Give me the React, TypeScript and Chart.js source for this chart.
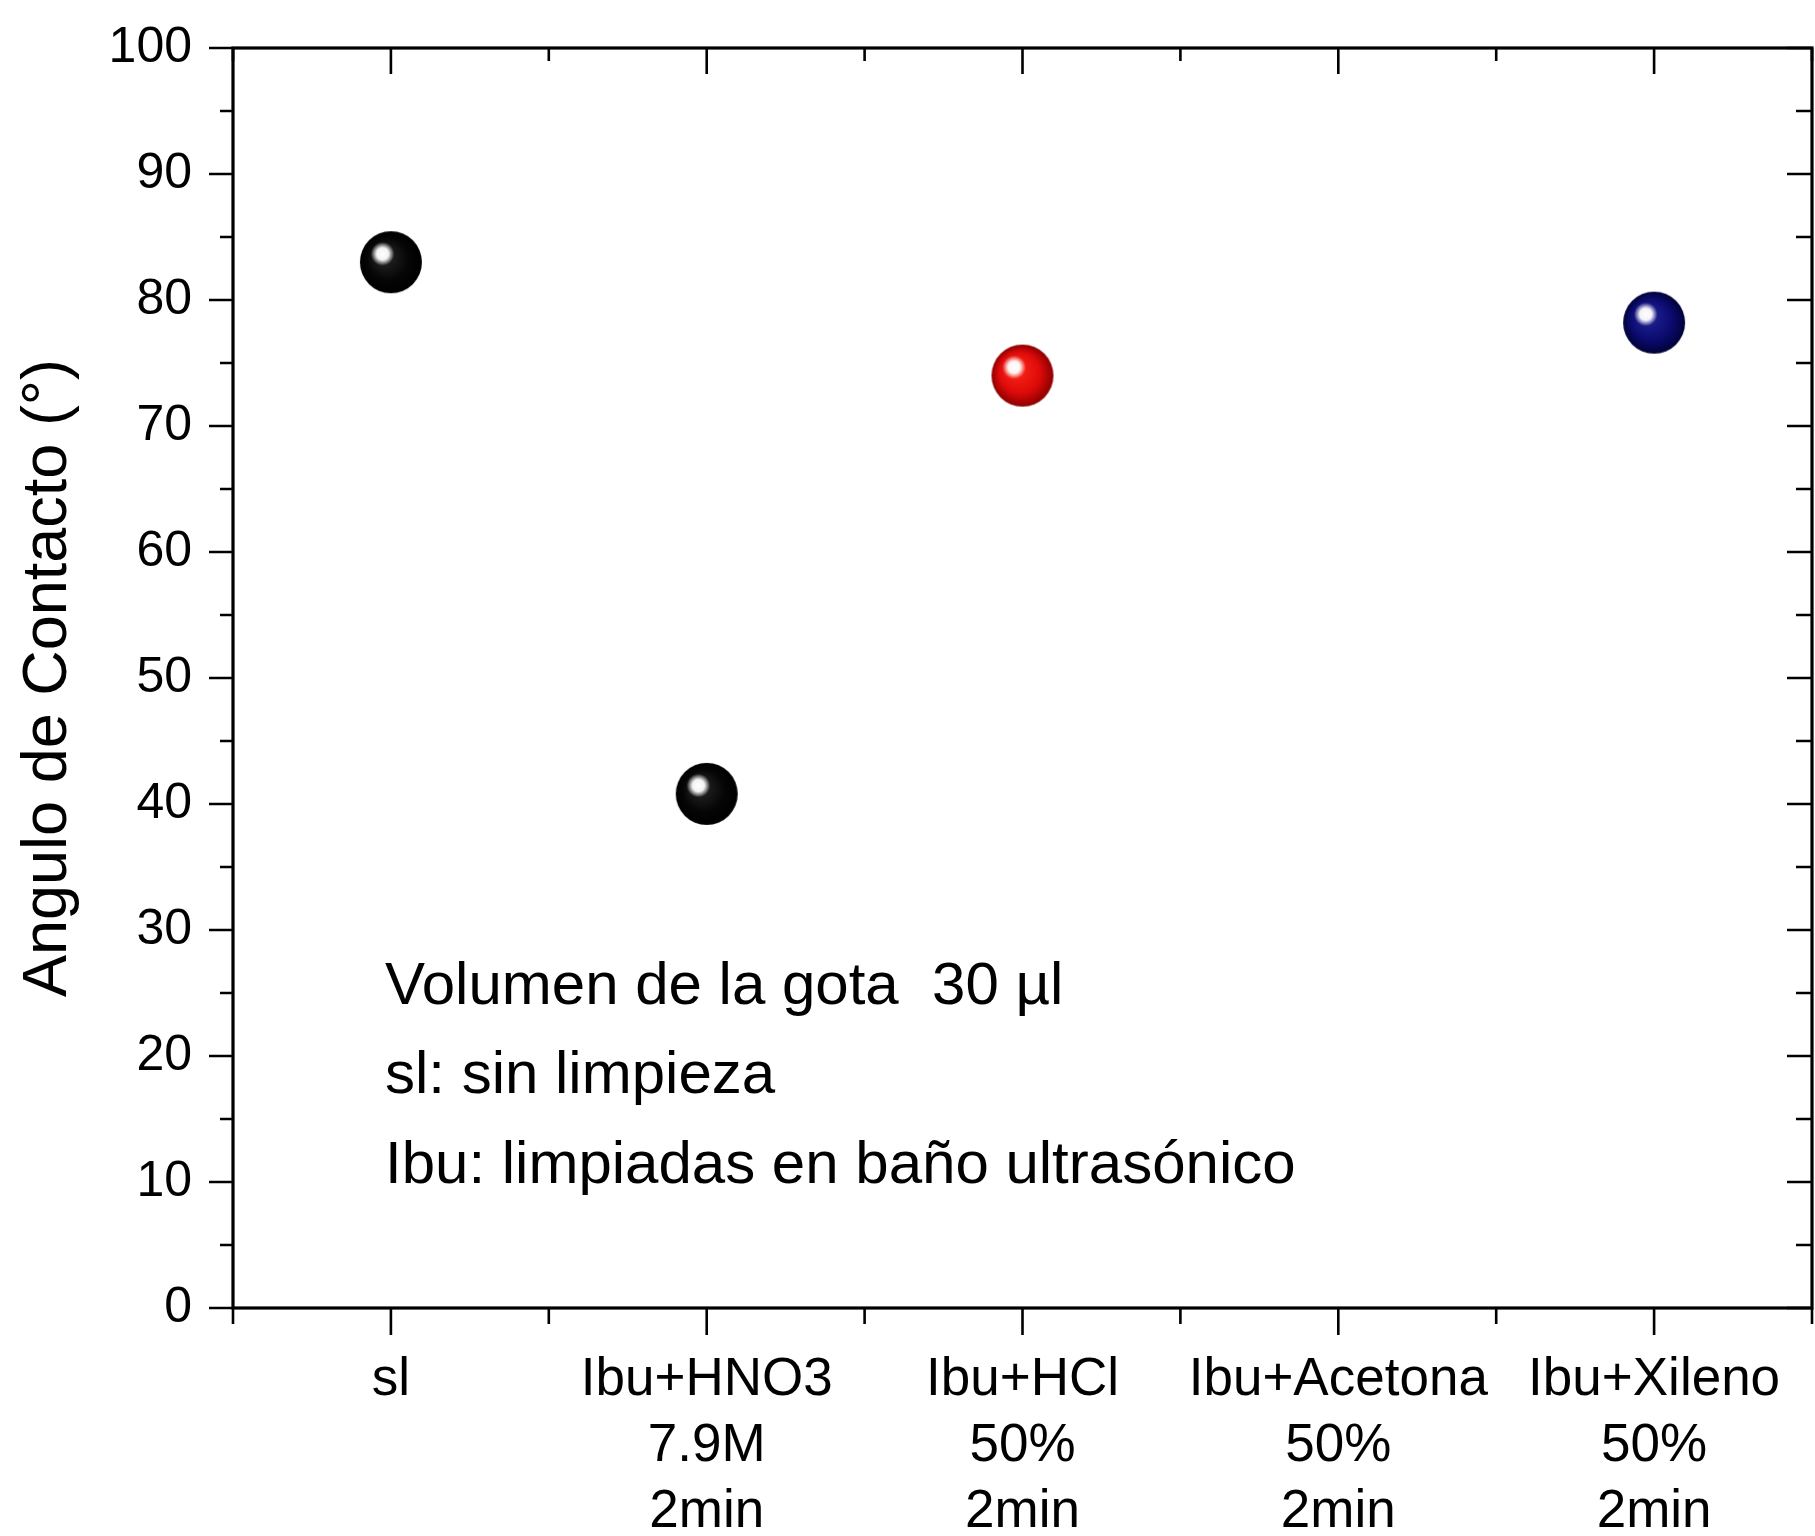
import React, { useEffect, useRef } from 'react';
import { Chart, registerables } from 'chart.js';

Chart.register(...registerables);

// ---------- data ----------
const CATEGORIES: string[][] = [
  ['sl'],
  ['Ibu+HNO3', '7.9M', '2min'],
  ['Ibu+HCl', '50%', '2min'],
  ['Ibu+Acetona', '50%', '2min'],
  ['Ibu+Xileno', '50%', '2min'],
];
const CONTACT_ANGLE: (number | null)[] = [83.0, 40.8, 74.0, null, 78.2];
const POINT_COLORS = ['black', 'black', 'red', 'navy', 'navy'];
const Y_MIN = 0;
const Y_MAX = 100;
const Y_MAJOR = 10;
const Y_MINOR = 5;
const Y_TITLE = 'Angulo de Contacto (°)';
const NOTES = [
  'Volumen de la gota  30 µl',
  'sl: sin limpieza',
  'Ibu: limpiadas en baño ultrasónico',
];

const FONT = '"Liberation Sans", Arial, Helvetica, sans-serif';

const PALETTES: Record<string, { inner: string; mid: string; edge: string }> = {
  black: { inner: '#2a2a2a', mid: '#060606', edge: '#000000' },
  red: { inner: '#ff2a18', mid: '#dd0a0a', edge: '#8c0000' },
  navy: { inner: '#26269a', mid: '#0b0b70', edge: '#020238' },
};

function makeSphere(kind: string, r: number): HTMLCanvasElement {
  const p = PALETTES[kind] || PALETTES.black;
  const c = document.createElement('canvas');
  const s = Math.ceil(r * 2 + 4);
  c.width = s;
  c.height = s;
  const g = c.getContext('2d')!;
  const cx = s / 2;
  const cy = s / 2;
  const hx = cx - r * 0.27;
  const hy = cy - r * 0.27;
  const base = g.createRadialGradient(hx, hy, r * 0.05, cx, cy, r);
  base.addColorStop(0, p.inner);
  base.addColorStop(0.65, p.mid);
  base.addColorStop(1, p.edge);
  g.beginPath();
  g.arc(cx, cy, r, 0, Math.PI * 2);
  g.fillStyle = base;
  g.fill();
  const hr = r * 0.38;
  const hl = g.createRadialGradient(hx, hy, 0, hx, hy, hr);
  hl.addColorStop(0, 'rgba(255,255,255,1)');
  hl.addColorStop(0.5, 'rgba(255,255,255,0.95)');
  hl.addColorStop(1, 'rgba(255,255,255,0)');
  g.beginPath();
  g.arc(hx, hy, hr, 0, Math.PI * 2);
  g.fillStyle = hl;
  g.fill();
  return c;
}

const framePlugin = {
  id: 'originFrame',
  beforeDatasetsDraw(chart: any) {
    const { ctx, chartArea, scales } = chart;
    const { left, right, top, bottom } = chartArea;
    const x = scales.x;
    const y = scales.y;
    ctx.save();
    ctx.strokeStyle = '#000';
    ctx.lineWidth = 3.2;
    ctx.strokeRect(left, top, right - left, bottom - top);
    ctx.lineWidth = 2.6;
    ctx.beginPath();
    for (let v = Y_MIN; v <= Y_MAX; v += Y_MINOR) {
      const py = y.getPixelForValue(v);
      const major = v % Y_MAJOR === 0;
      ctx.moveTo(left, py);
      ctx.lineTo(left - (major ? 24 : 13), py);
      ctx.moveTo(right, py);
      ctx.lineTo(right - (major ? 25 : 16), py);
    }
    const n = CATEGORIES.length;
    for (let i = 0; i < n; i++) {
      const px = x.getPixelForValue(i);
      ctx.moveTo(px, bottom);
      ctx.lineTo(px, bottom + 27);
      ctx.moveTo(px, top);
      ctx.lineTo(px, top + 26);
    }
    for (let i = 0; i <= n; i++) {
      const px = x.getPixelForValue(i - 0.5);
      ctx.moveTo(px, bottom);
      ctx.lineTo(px, bottom + 16);
      ctx.moveTo(px, top);
      ctx.lineTo(px, top + 13);
    }
    ctx.stroke();
    ctx.restore();
  },
  afterDraw(chart: any) {
    const { ctx, chartArea } = chart;
    ctx.save();
    ctx.fillStyle = '#000';
    ctx.font = `60px ${FONT}`;
    ctx.textAlign = 'left';
    ctx.textBaseline = 'middle';
    NOTES.forEach((t, i) => {
      ctx.fillText(t, chartArea.left + 152, chartArea.top + 939 + i * 89.5);
    });
    ctx.restore();
  },
};

function zeroPadding(s: any) {
  s.paddingTop = 0;
  s.paddingBottom = 0;
  s.paddingLeft = 0;
  s.paddingRight = 0;
}

export default function App() {
  const ref = useRef<HTMLCanvasElement | null>(null);
  useEffect(() => {
    if (!ref.current) return;
    const spheres = POINT_COLORS.map((k) => makeSphere(k, 31));
    const chart = new Chart(ref.current, {
      type: 'line',
      data: {
        labels: CATEGORIES as any,
        datasets: [
          {
            data: CONTACT_ANGLE as any,
            showLine: false,
            pointStyle: spheres as any,
            pointRadius: 31,
            pointHoverRadius: 31,
          },
        ],
      },
      options: {
        responsive: false,
        animation: false,
        events: [],
        layout: { autoPadding: false, padding: { top: 48, right: 3, left: 0, bottom: 0 } },
        plugins: { legend: { display: false }, tooltip: { enabled: false } },
        scales: {
          x: {
            type: 'category',
            offset: true,
            grid: { display: false, drawTicks: false },
            border: { display: false },
            ticks: {
              color: '#000',
              font: { family: FONT, size: 53, lineHeight: 1.245 },
              padding: 39,
              maxRotation: 0,
              minRotation: 0,
              autoSkip: false,
            },
            afterFit: (s: any) => {
              s.height = 228;
              zeroPadding(s);
            },
          },
          y: {
            min: Y_MIN,
            max: Y_MAX,
            grid: { display: false, drawTicks: false },
            border: { display: false },
            ticks: {
              stepSize: Y_MAJOR,
              color: '#000',
              font: { family: FONT, size: 50 },
              padding: 41,
            },
            title: {
              display: true,
              text: Y_TITLE,
              color: '#000',
              font: { family: FONT, size: 63, lineHeight: 1.2 },
              padding: { top: 11, bottom: 0 },
            },
            afterFit: (s: any) => {
              s.width = 233;
              zeroPadding(s);
            },
          },
        },
      },
      plugins: [framePlugin],
    });
    return () => chart.destroy();
  }, []);
  return (
    <div style={{ position: 'fixed', left: 0, top: 0, width: 1815, height: 1536, background: '#fff' }}>
      <canvas ref={ref} width={1815} height={1536} style={{ width: 1815, height: 1536, display: 'block' }} />
    </div>
  );
}
